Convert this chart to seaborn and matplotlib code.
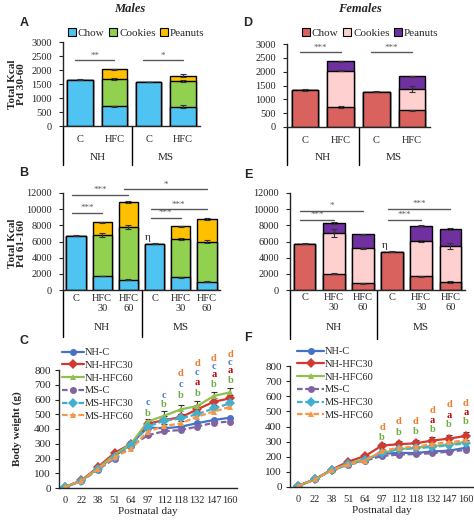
import numpy as np
import pandas as pd
import matplotlib
matplotlib.use('Agg')
import matplotlib.pyplot as plt
import seaborn as sns
from matplotlib.patches import Patch

W, H = 474, 522

# ---- energy intake, Pd 30-60 (kcal) ----
a_bars = ['NH-C', 'NH-HFC', 'MS-C', 'MS-HFC']
a_diet = ['C', 'HFC', 'C', 'HFC']
a_chow = [1650, 700, 1570, 690]
a_cookies = [0, 980, 0, 910]
a_peanuts = [0, 350, 0, 200]
a_err = [[15, 30, 15, 60], [0, 40, 0, 40], [0, 20, 0, 50]]
a_sig = [(0, 1, 2350, '**'), (2, 3, 2350, '*')]

d_chow = [1340, 720, 1280, 600]
d_cookies = [0, 1320, 0, 770]
d_peanuts = [0, 330, 0, 470]
d_err = [[25, 30, 20, 30], [0, 30, 0, 100], [0, 30, 0, 20]]
d_sig = [(0, 1, 2700, '***'), (2, 3, 2700, '***')]

# ---- energy intake, Pd 61-160 (kcal) ----
b_bars = ['NH-C', 'NH-HFC30', 'NH-HFC60', 'MS-C', 'MS-HFC30', 'MS-HFC60']
b_diet = ['C', 'HFC\n30', 'HFC\n60', 'C', 'HFC\n30', 'HFC\n60']
b_chow = [6700, 1750, 1250, 5700, 1550, 1050]
b_cookies = [0, 5050, 6550, 0, 4750, 4950]
b_peanuts = [0, 1600, 3100, 0, 1600, 2800]
b_err = [[60, 40, 50, 60, 60, 40], [0, 200, 300, 0, 80, 150], [0, 60, 100, 0, 50, 80]]
b_sig = [(0, 1, 9560, '***'), (0, 2, 11750, '***'), (2, 5, 12460, '*'),
         (3, 4, 8900, '***'), (3, 5, 10000, '***')]

e_chow = [5700, 2000, 850, 4750, 1700, 1000]
e_cookies = [0, 5000, 4300, 0, 4350, 4450]
e_peanuts = [0, 1300, 1750, 0, 1900, 2100]
e_err = [[60, 60, 50, 50, 80, 100], [0, 500, 100, 0, 150, 400], [0, 150, 80, 0, 50, 80]]
e_sig = [(0, 2, 9770, '*'), (0, 1, 8660, '***'), (3, 5, 10020, '***'), (3, 4, 8660, '***')]

# ---- body weight (g) ----
days = [0, 22, 38, 51, 64, 97, 112, 118, 132, 147, 160]
groups = ['NH-C', 'NH-HFC30', 'NH-HFC60', 'MS-C', 'MS-HFC30', 'MS-HFC60']
m_weight = {
    'NH-C':     [6, 50, 135, 215, 300, 410, 405, 415, 440, 461, 477],
    'NH-HFC30': [6, 52, 142, 238, 300, 435, 461, 479, 533, 585, 608],
    'NH-HFC60': [6, 50, 135, 225, 300, 450, 490, 533, 556, 624, 649],
    'MS-C':     [6, 48, 125, 200, 285, 357, 385, 393, 416, 443, 450],
    'MS-HFC30': [6, 50, 130, 210, 290, 416, 456, 472, 500, 540, 574],
    'MS-HFC60': [6, 50, 130, 210, 265, 382, 420, 438, 484, 518, 551],
}
m_err_hfc60 = [2, 4, 8, 12, 20, 20, 30, 30, 35, 30, 30]
m_err_hfc30 = [2, 4, 8, 10, 15, 20, 25, 25, 30, 25, 25]
f_weight = {
    'NH-C':     [7, 51, 112, 150, 180, 220, 225, 225, 235, 240, 260],
    'NH-HFC30': [7, 51, 115, 168, 205, 274, 283, 289, 307, 320, 338],
    'NH-HFC60': [7, 50, 112, 155, 185, 225, 250, 260, 270, 280, 300],
    'MS-C':     [7, 50, 110, 146, 174, 205, 214, 218, 223, 234, 245],
    'MS-HFC30': [7, 50, 112, 150, 180, 225, 250, 255, 265, 275, 290],
    'MS-HFC60': [7, 50, 112, 150, 175, 238, 260, 265, 285, 295, 310],
}
f_err_hfc30 = [2, 4, 8, 10, 12, 20, 18, 20, 25, 25, 25]

m_let_day = [97, 97, 112, 112, 118, 118, 118, 132, 132, 132, 132, 147, 147, 147, 147, 160, 160, 160, 160]
m_let_txt = ['c', 'b', 'c', 'b', 'd', 'c', 'b', 'd', 'c', 'a', 'b', 'd', 'c', 'a', 'b', 'd', 'c', 'a', 'b']
m_let_y = [583, 508, 630, 563, 773, 705, 630, 847, 780, 712, 644, 880, 822, 768, 705, 908, 848, 794, 732]
f_let_day = [97, 97, 112, 112, 118, 118, 132, 132, 132, 147, 147, 147, 160, 160, 160]
f_let_txt = ['d', 'b', 'd', 'b', 'd', 'b', 'd', 'a', 'b', 'd', 'a', 'b', 'd', 'a', 'b']
f_let_y = [391, 328, 435, 363, 435, 369, 504, 441, 380, 545, 475, 415, 554, 492, 432]

male_cols = ['#4FC3F2', '#92D050', '#FFC000']
female_cols = ['#D9625F', '#FFD0D0', '#7030A0']
line_cols = {'NH-C': '#4472C4', 'NH-HFC30': '#D03A32', 'NH-HFC60': '#92C050',
             'MS-C': '#8064A2', 'MS-HFC30': '#3FB0D0', 'MS-HFC60': '#F79646'}
line_marks = {'NH-C': 'o', 'NH-HFC30': 'D', 'NH-HFC60': '^',
              'MS-C': 'o', 'MS-HFC30': 'D', 'MS-HFC60': '^'}
line_dash = {'NH-C': '', 'NH-HFC30': '', 'NH-HFC60': '',
             'MS-C': (2.5, 1.2), 'MS-HFC30': (2.5, 1.2), 'MS-HFC60': (2.5, 1.2)}
let_cols = {'a': '#C00000', 'b': '#70AD47', 'c': '#4A7EC4', 'd': '#ED7D31'}

sns.set_style('ticks')
plt.rcParams['font.family'] = ['Liberation Serif', 'DejaVu Serif']
plt.rcParams['axes.linewidth'] = 1.0

fig = plt.figure(figsize=(W / 100, H / 100), dpi=100)


def add_ax(l, t, r, b):
    return fig.add_axes([l / W, 1 - b / H, (r - l) / W, (b - t) / H])


def stacked(ax, bars, chow, cookies, peanuts, errs, cols, top, ticks):
    chow = np.array(chow)
    cc = chow + np.array(cookies)
    tot = cc + np.array(peanuts)
    for vals, col in [(tot, cols[2]), (cc, cols[1]), (chow, cols[0])]:
        sns.barplot(x=bars, y=vals, order=bars, color=col, saturation=1, width=0.74,
                    edgecolor='black', linewidth=1, errorbar=None, ax=ax)
    xs = np.arange(len(bars))
    for vals, e in zip([chow, cc, tot], errs):
        e = np.array(e)
        m = e > 0
        ax.errorbar(xs[m], vals[m], yerr=e[m], fmt='none', ecolor='#333333',
                    elinewidth=0.8, capsize=2, capthick=0.8, zorder=5)
    ax.set_xlim(-0.5, len(bars) - 0.5)
    ax.set_ylim(0, top)
    ax.set_yticks(ticks)
    ax.set_xticks([])
    ax.set_xlabel('')
    ax.set_ylabel('')
    sns.despine(ax=ax)
    ax.tick_params(axis='y', direction='out', length=3, width=0.8, pad=5, labelsize=7.5)


def sig_lines(ax, sig):
    for i, j, y, s in sig:
        ax.plot([i - 0.15, j], [y, y], color='#595959', lw=1, clip_on=False)
        ax.annotate(s, ((i - 0.15 + j) / 2, y), xytext=(0, 0.5), textcoords='offset points',
                    ha='center', va='bottom', fontsize=6.5, color='#595959',
                    annotation_clip=False)


def categories(ax, diet, sep, d_txt, d_grp, d_end):
    tr = ax.get_xaxis_transform()
    n = len(diet)
    for x, s in enumerate(diet):
        ax.annotate(s, (x, 0), xycoords=tr, xytext=(0, -d_txt * 0.72), textcoords='offset points',
                    ha='center', va='top', fontsize=7.5, linespacing=1.15, annotation_clip=False)
    for x, s in [((sep - 0.5) / 2, 'NH'), ((sep + n - 0.5) / 2, 'MS')]:
        ax.annotate(s, (x, 0), xycoords=tr, xytext=(0, -d_grp * 0.72), textcoords='offset points',
                    ha='center', va='center', fontsize=8, annotation_clip=False)
    hh = d_end / ax.bbox.height
    for x in [-0.5, sep]:
        ax.plot([x, x], [0, -hh], transform=tr, color='black', lw=1, clip_on=False)


axA = add_ax(63, 42, 200, 126)
stacked(axA, a_bars, a_chow, a_cookies, a_peanuts, a_err, male_cols, 3000, range(0, 3001, 500))
sig_lines(axA, a_sig)
categories(axA, a_diet, 1.5, 9, 31, 39)

axD = add_ax(287, 44, 430, 127)
stacked(axD, a_bars, d_chow, d_cookies, d_peanuts, d_err, female_cols, 3000, range(0, 3001, 500))
sig_lines(axD, d_sig)
categories(axD, a_diet, 1.5, 9, 30, 38)

axB = add_ax(63, 193, 220, 290)
stacked(axB, b_bars, b_chow, b_cookies, b_peanuts, b_err, male_cols, 12000, range(0, 12001, 2000))
sig_lines(axB, b_sig)
categories(axB, b_diet, 2.5, 4, 37, 47)
axB.text(3 - 0.15, b_chow[3] + 250, 'η', ha='right', va='bottom', fontsize=8)

axE = add_ax(290, 193, 465, 290)
stacked(axE, b_bars, e_chow, e_cookies, e_peanuts, e_err, female_cols, 12000, range(0, 12001, 2000))
sig_lines(axE, e_sig)
categories(axE, b_diet, 2.5, 3, 37, 49)
axE.text(3 - 0.15, e_chow[3] + 250, 'η', ha='right', va='bottom', fontsize=8)

for cols, x0 in [(male_cols, 68), (female_cols, 302)]:
    hd = [Patch(facecolor=c, edgecolor='black', linewidth=0.8) for c in cols]
    fig.legend(hd, ['Chow', 'Cookies', 'Peanuts'], loc='center left',
               bbox_to_anchor=(x0 / W, 1 - 33 / H), ncol=3, frameon=False, fontsize=8,
               handlelength=0.7, handleheight=0.7, handletextpad=0.2, columnspacing=0.4,
               borderpad=0, borderaxespad=0)


def weight_panel(ax, data, errs, let_day, let_txt, let_y, xl, leg_xy, hl):
    df = pd.DataFrame({
        'pos': np.tile(np.arange(len(days)), len(groups)),
        'weight': np.concatenate([data[g] for g in groups]),
        'group': np.repeat(groups, len(days)),
    })
    for g, e in errs:
        ax.errorbar(np.arange(len(days)), data[g], yerr=e, fmt='none', ecolor='#333333',
                    elinewidth=0.8, capsize=2, capthick=0.8, zorder=1)
    sns.lineplot(data=df, x='pos', y='weight', hue='group', style='group',
                 hue_order=groups, style_order=groups, palette=line_cols,
                 markers=line_marks, dashes=line_dash, markersize=5, linewidth=1.6,
                 markeredgewidth=0, ax=ax)
    for d, t, y in zip(let_day, let_txt, let_y):
        ax.text(days.index(d), y, t, color=let_cols[t], ha='center', va='center',
                fontsize=7.5, fontweight='bold', clip_on=False)
    ax.set_xlim(*xl)
    ax.set_ylim(0, 800)
    ax.set_yticks(range(0, 801, 100))
    ax.set_xticks(range(len(days)))
    ax.set_xticklabels(days)
    ax.set_xlabel('Postnatal day', fontsize=8, labelpad=1)
    ax.set_ylabel('')
    sns.despine(ax=ax)
    ax.tick_params(axis='y', direction='out', length=3, width=0.8, pad=3, labelsize=8)
    ax.tick_params(axis='x', length=0, pad=6, labelsize=7.5)
    hd, lb = ax.get_legend_handles_labels()
    ax.legend(hd, lb, loc='upper left', bbox_to_anchor=(leg_xy[0] / W, 1 - leg_xy[1] / H),
              bbox_transform=fig.transFigure, frameon=False, fontsize=7.5,
              handlelength=hl, handletextpad=0.1, labelspacing=0.33, borderpad=0,
              borderaxespad=0)


axC = add_ax(59, 370, 237, 488)
weight_panel(axC, m_weight, [('NH-HFC60', m_err_hfc60), ('NH-HFC30', m_err_hfc30)],
             m_let_day, m_let_txt, m_let_y, (-0.36, 10.4), (62, 348), 2.1)

axF = add_ax(290, 366, 474, 487)
weight_panel(axF, f_weight, [('NH-HFC30', f_err_hfc30)],
             f_let_day, f_let_txt, f_let_y, (-0.48, 10.48), (297, 347), 2.6)

# titles, panel letters, y labels
fig.text(130 / W, 1 - 9 / H, 'Males', ha='center', va='center', fontsize=9,
         fontweight='bold', fontstyle='italic')
fig.text(360 / W, 1 - 9 / H, 'Females', ha='center', va='center', fontsize=9,
         fontweight='bold', fontstyle='italic')
for s, x, y in [('A', 24, 23), ('B', 24, 173), ('C', 24, 341),
                ('D', 248, 23), ('E', 248, 175), ('F', 248, 338)]:
    fig.text(x / W, 1 - y / H, s, ha='center', va='center', fontsize=9,
             fontweight='bold', family='Liberation Sans')
fig.text(17 / W, 1 - 84 / H, 'Total Kcal\nPd 30-60', rotation=90, ha='center', va='center',
         fontsize=8, fontweight='bold', linespacing=1.1, multialignment='center')
fig.text(17 / W, 1 - 243 / H, 'Total Kcal\nPd 61-160', rotation=90, ha='center', va='center',
         fontsize=8, fontweight='bold', linespacing=1.1, multialignment='center')
fig.text(17 / W, 1 - 429 / H, 'Body weight (g)', rotation=90, ha='center', va='center',
         fontsize=8, fontweight='bold')

fig.savefig('out.png', dpi=100)
